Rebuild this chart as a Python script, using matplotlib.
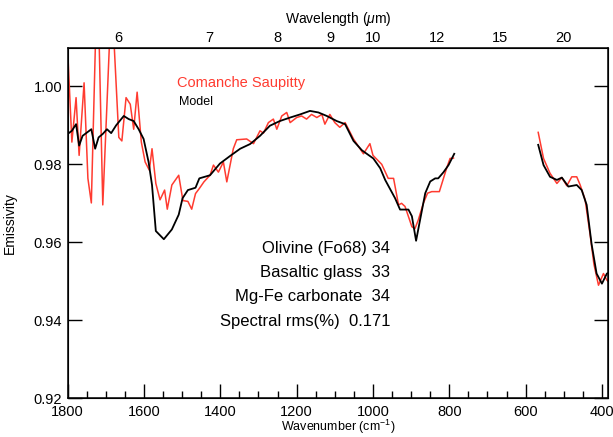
import numpy as np
import matplotlib
matplotlib.use("Agg")
import matplotlib.pyplot as plt
from matplotlib.ticker import MultipleLocator

plt.rcParams['font.family'] = ['Liberation Sans', 'DejaVu Sans']
plt.rcParams['mathtext.fontset'] = 'custom'
plt.rcParams['mathtext.rm'] = 'Liberation Sans'
plt.rcParams['mathtext.it'] = 'Liberation Sans:italic'

# ---- data: observed spectrum (Comanche Saupitty), two segments ----
obs_wn_1 = [1800, 1789, 1778, 1770, 1757, 1747, 1738, 1722, 1708, 1685, 1666, 1658,
            1647, 1636, 1627, 1618, 1607, 1597, 1586, 1579, 1569, 1558, 1546, 1539,
            1527, 1509, 1498, 1485, 1475, 1465, 1455, 1443, 1427, 1418, 1405, 1392,
            1383, 1366, 1357, 1331, 1313, 1296, 1287, 1274, 1261, 1252, 1239, 1226,
            1217, 1200, 1187, 1174, 1161, 1147, 1134, 1126, 1113, 1100, 1087, 1073,
            1051, 1025, 1008, 1000, 977, 960, 946, 933, 925, 916, 898, 890, 881, 868,
            857, 846, 826, 807, 798, 789]
obs_em_1 = [1.0093, 0.9857, 0.9971, 0.9823, 1.0009, 0.9764, 0.9701, 1.031, 0.9696, 1.024,
            0.9869, 0.9860, 0.9971, 0.9954, 0.9890, 0.9985, 0.9857, 0.9806, 0.9785, 0.9840,
            0.9751, 0.9709, 0.9734, 0.9685, 0.9747, 0.9772, 0.9707, 0.9705, 0.9685, 0.9725,
            0.9738, 0.9755, 0.9772, 0.9798, 0.9780, 0.9806, 0.9755, 0.9840, 0.9863, 0.9865,
            0.9853, 0.9886, 0.9880, 0.9907, 0.9916, 0.9890, 0.9924, 0.9933, 0.9907, 0.9920,
            0.9924, 0.9916, 0.9928, 0.9920, 0.9928, 0.9903, 0.9928, 0.9907, 0.9895, 0.9907,
            0.9865, 0.9827, 0.9853, 0.9823, 0.9800, 0.9764, 0.9764, 0.9696, 0.9700, 0.9692,
            0.9640, 0.9635, 0.9658, 0.9700, 0.9726, 0.9730, 0.9730, 0.9790, 0.9815, 0.9816]
obs_wn_2 = [567, 553, 536, 518, 505, 492, 479, 466, 457, 444, 431, 421, 409, 396, 387, 384]
obs_em_2 = [0.9882, 0.9815, 0.9777, 0.9751, 0.9766, 0.9745, 0.9768, 0.9768, 0.9747,
            0.9709, 0.9620, 0.9544, 0.9490, 0.9520, 0.9503, 0.9500]

# ---- data: model spectrum ----
mod_wn_1 = [1800, 1789, 1778, 1770, 1761, 1738, 1728, 1719, 1708, 1697, 1686, 1673,
            1653, 1640, 1627, 1614, 1601, 1588, 1579, 1569, 1548, 1527, 1509, 1499,
            1485, 1465, 1455, 1427, 1401, 1375, 1348, 1322, 1296, 1270, 1244, 1217,
            1191, 1165, 1143, 1121, 1095, 1073, 1051, 1029, 999, 981, 968, 942, 929,
            907, 898, 887, 878, 863, 850, 837, 829, 815, 802, 787]
mod_em_1 = [0.9878, 0.9886, 0.9903, 0.9848, 0.9873, 0.9890, 0.9840, 0.9869, 0.9878,
            0.9890, 0.9880, 0.9900, 0.9924, 0.9916, 0.9911, 0.9890, 0.9865, 0.9806,
            0.9747, 0.9629, 0.9608, 0.9633, 0.9671, 0.9713, 0.9734, 0.9740, 0.9764,
            0.9772, 0.9802, 0.9821, 0.9840, 0.9852, 0.9873, 0.9899, 0.9911, 0.9920,
            0.9928, 0.9937, 0.9933, 0.9924, 0.9911, 0.9903, 0.9860, 0.9836, 0.9815,
            0.9790, 0.9760, 0.9713, 0.9684, 0.9684, 0.9667, 0.9604, 0.9650, 0.9726,
            0.9756, 0.9764, 0.9764, 0.9780, 0.9798, 0.9827]
mod_wn_2 = [567, 553, 536, 518, 505, 488, 466, 453, 440, 427, 414, 400, 387, 384]
mod_em_2 = [0.9850, 0.9798, 0.9768, 0.9760, 0.9766, 0.9743, 0.9747, 0.9734, 0.9696,
            0.9595, 0.9520, 0.9494, 0.9520, 0.9521]

wavelength_ticks = [6, 7, 8, 9, 10, 12, 15, 20]
fit_labels = ["Olivine (Fo68) 34", "Basaltic glass  33", "Mg-Fe carbonate  34",
              "Spectral rms(%)  0.171"]

fig = plt.figure(figsize=(6.13, 4.37), dpi=100)
ax = fig.add_axes([0.1104, 0.0885, 0.8815, 0.8023])

red = '#ff3b30'
ax.plot(obs_wn_1, obs_em_1, color=red, lw=1.1)
ax.plot(obs_wn_2, obs_em_2, color=red, lw=1.1)
ax.plot(mod_wn_1, mod_em_1, color='black', lw=1.3)
ax.plot(mod_wn_2, mod_em_2, color='black', lw=1.3)

ax.set_xlim(1800, 384)
ax.set_ylim(0.92, 1.0099)
ax.xaxis.set_major_locator(MultipleLocator(200))
ax.xaxis.set_minor_locator(MultipleLocator(50))
ax.yaxis.set_major_locator(MultipleLocator(0.02))
ax.yaxis.set_minor_locator(MultipleLocator(0.005))
ax.set_yticks([0.92, 0.94, 0.96, 0.98, 1.00])
ax.set_yticklabels(["0.92", "0.94", "0.96", "0.98", "1.00"])
ax.tick_params(which='both', direction='in', top=True, right=True, width=1.0,
               labelsize=10.5, colors='black')
ax.tick_params(which='major', length=10, pad=4)
ax.tick_params(axis='x', which='major', pad=4.5)
ax.tick_params(which='minor', length=5.3)
for s in ax.spines.values():
    s.set_linewidth(1.1)

ax.set_xlabel("Wavenumber (cm$^{-1}$)", fontsize=9, labelpad=-0.5)
ax.set_ylabel("Emissivity", fontsize=10, labelpad=12)

ax2 = ax.twiny()
ax2.set_xlim(ax.get_xlim())
ax2.set_xticks([10000.0 / w for w in wavelength_ticks])
ax2.set_xticklabels([str(w) for w in wavelength_ticks])
ax2.tick_params(length=0, pad=2.0, labelsize=10.5)
ax2.minorticks_off()
ax2.set_xlabel(r"Wavelength ($\mu$m)", fontsize=10, labelpad=6)

ax.text(0.2014, 0.9006, "Comanche Saupitty", color=red, fontsize=10.5,
        transform=ax.transAxes, ha='left', va='center')
ax.text(0.206, 0.845, "Model", color='black', fontsize=9,
        transform=ax.transAxes, ha='left', va='center')

ys = [0.428, 0.3597, 0.2892, 0.219]
for lab, yy in zip(fit_labels, ys):
    ax.text(0.5966, yy, lab, fontsize=12, transform=ax.transAxes,
            ha='right', va='center')

fig.savefig("out.png", dpi=100)
